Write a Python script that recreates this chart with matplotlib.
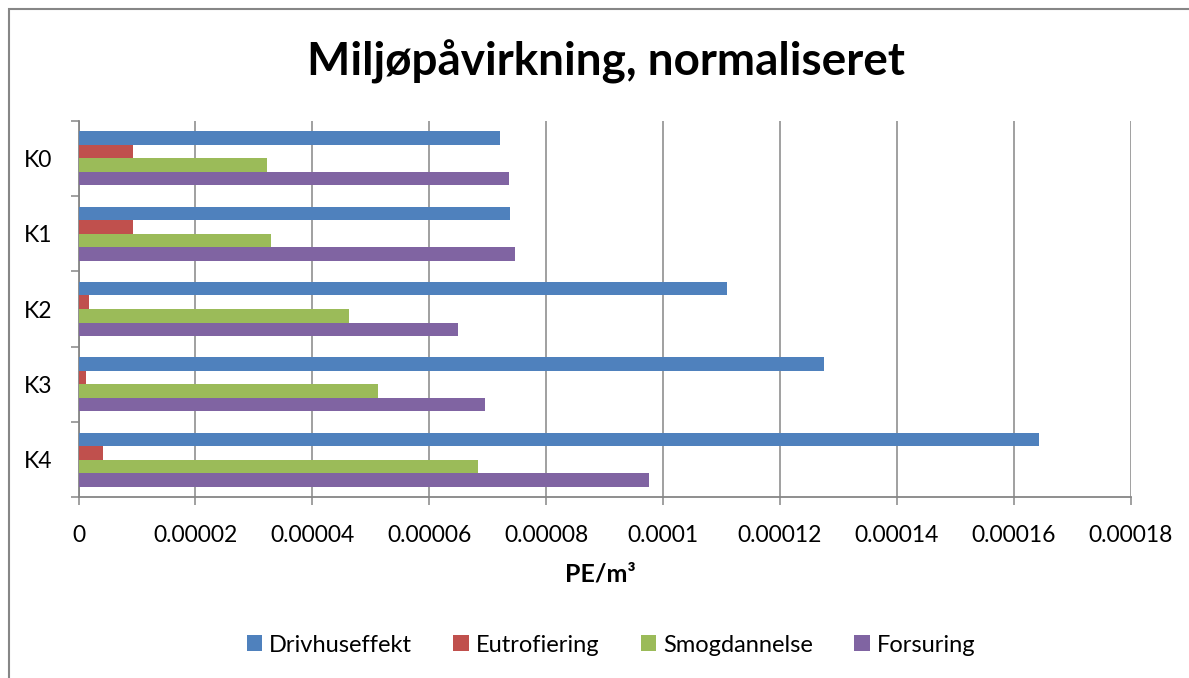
import matplotlib
matplotlib.use("Agg")
import matplotlib.pyplot as plt
import numpy as np
from matplotlib.patches import Rectangle

# Normalised environmental impact per scenario (PE per m3)
scenarios = ["K0", "K1", "K2", "K3", "K4"]
series_names = ["Drivhuseffekt", "Eutrofiering", "Smogdannelse", "Forsuring"]

drivhuseffekt = [7.21e-5, 7.39e-5, 1.110e-4, 1.276e-4, 1.643e-4]
eutrofiering = [9.4e-6, 9.4e-6, 1.8e-6, 1.2e-6, 4.2e-6]
smogdannelse = [3.22e-5, 3.30e-5, 4.63e-5, 5.13e-5, 6.83e-5]
forsuring = [7.36e-5, 7.47e-5, 6.50e-5, 6.95e-5, 9.76e-5]

xticks = [0, 0.00002, 0.00004, 0.00006, 0.00008, 0.0001,
          0.00012, 0.00014, 0.00016, 0.00018]
xtick_labels = ["0", "0.00002", "0.00004", "0.00006", "0.00008", "0.0001",
                "0.00012", "0.00014", "0.00016", "0.00018"]

colors = ["#4F81BD", "#C0504D", "#9BBB59", "#8064A2"]
grid_grey = "#868686"

plt.rcParams["font.family"] = ["Lato", "DejaVu Sans"]

fig = plt.figure(figsize=(11.89, 6.78), dpi=100)
ax = fig.add_axes([78.5 / 1189, 1 - 497.3 / 678, (1130.5 - 78.5) / 1189, (497.3 - 120.7) / 678])

y = np.arange(len(scenarios))
h = 0.18
all_series = [drivhuseffekt, eutrofiering, smogdannelse, forsuring]
for i, (vals, name) in enumerate(zip(all_series, series_names)):
    ax.barh(y + (i - 1.5) * h, vals, height=h, color=colors[i], label=name,
            linewidth=0, zorder=3)

ax.set_xlim(0, 0.00018)
ax.set_ylim(4.5, -0.5)

ax.set_xticks(xticks)
ax.set_xticklabels(xtick_labels, fontsize=16.5)
ax.grid(axis="x", color=grid_grey, linewidth=1.1, zorder=0)

# category boundaries carry the tick marks, labels sit in between
ax.set_yticks(np.arange(-0.5, len(scenarios), 1))
ax.set_yticklabels([])
ax.set_yticks(y, minor=True)
ax.set_yticklabels(scenarios, minor=True, fontsize=16.5)
ax.tick_params(axis="y", which="minor", length=0, pad=18.8)
ax.tick_params(axis="y", which="major", length=5.8, width=1.1, color=grid_grey)
ax.tick_params(axis="x", length=5.8, width=1.1, color=grid_grey, pad=14.5)

for side in ["top", "right"]:
    ax.spines[side].set_visible(False)
for side in ["left", "bottom"]:
    ax.spines[side].set_color(grid_grey)
    ax.spines[side].set_linewidth(1.3)

fig.text(606 / 1189, 1 - 75 / 678, "Miljøpåvirkning, normaliseret",
         ha="center", va="baseline", fontsize=33, fontweight="bold")
fig.text(600 / 1189, 1 - 581 / 678, "PE/m³", ha="center", va="baseline",
         fontsize=18, fontweight="bold")

fig.legend(loc="center", bbox_to_anchor=(611 / 1189, 1 - 645 / 678), ncol=4,
           frameon=False, fontsize=17, handlelength=0.65, handleheight=0.65,
           handletextpad=0.3, columnspacing=1.75)

# chart frame
fig.add_artist(Rectangle((8.5 / 1189, -0.1), 1.2, 1.1 - 9.5 / 678,
                         transform=fig.transFigure, fill=False,
                         edgecolor=grid_grey, linewidth=1.5))

fig.savefig("out.png", dpi=100)
